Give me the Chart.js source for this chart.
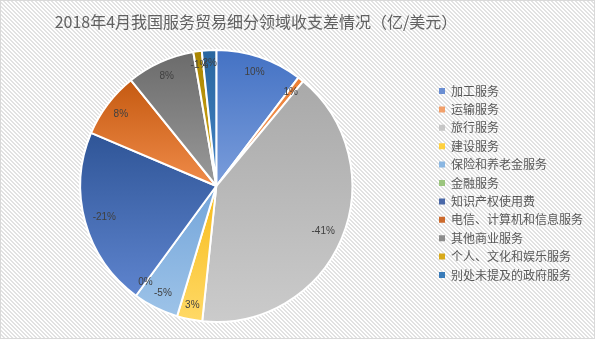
<!DOCTYPE html>
<html lang="zh">
<head>
<meta charset="utf-8">
<title>2018年4月我国服务贸易细分领域收支差情况</title>
<script src="https://cdn.jsdelivr.net/npm/chart.js@4.4.1/dist/chart.umd.min.js"></script>
<style>
  html, body { margin: 0; padding: 0; background: #fff; }
  #wrap {
    position: relative; width: 595px; height: 339px; box-sizing: border-box;
    border: 1px solid #d9d9d9;
    background: repeating-linear-gradient(45deg, #fff 0 1.6px, #e2e2e2 1.6px 2.83px);
  }
  #chart { position: absolute; left: -1px; top: -1px; }
</style>
</head>
<body>
<div id="wrap"><canvas id="chart" width="595" height="339"></canvas></div>
<script>
// data (share of total, sign = surplus / deficit)
const chartTitle = '2018年4月我国服务贸易细分领域收支差情况（亿/美元）';
const categories = ['加工服务', '运输服务', '旅行服务', '建设服务', '保险和养老金服务', '金融服务',
  '知识产权使用费', '电信、计算机和信息服务', '其他商业服务', '个人、文化和娱乐服务', '别处未提及的政府服务'];
const shares = [10.3, 0.7, -40.6, 3.0, -5.4, 0, -21.3, 7.8, 8.1, -1.0, 1.7];

// styles
const sliceTop = ['#4472c4', '#ed7d31', '#a9a9a9', '#f7bb1a', '#74a5da', '#70ad47',
  '#2f5597', '#c55a11', '#6b6b6b', '#a98500', '#2a669f'];
const sliceBottom = ['#7a9ddb', '#f4a46e', '#cbcbcb', '#ffd966', '#9dc3e8', '#a9d18e',
  '#5e84ce', '#f08b49', '#9a9a9a', '#d4a91b', '#4485c6'];
const legendColors = ['#6a8ed2', '#f2a06a', '#c6c6c6', '#ffd13f', '#8bb7e2', '#9bc57e',
  '#4a68a8', '#cc6a2c', '#8c8c8c', '#d8a91a', '#3a7cb9'];
const PIE_RADIUS = 136;
const CJK = '"Noto Sans CJK SC", "Microsoft YaHei", sans-serif';

const totalAbs = shares.reduce((s, v) => s + Math.abs(v), 0);

// vertical gradient over each slice's own height, darker at the top
function sliceFill(c) {
  const i = c.dataIndex;
  const area = c.chart.chartArea;
  if (!area || i === undefined) return sliceTop[i] || '#999';
  let a0 = -Math.PI / 2;
  for (let k = 0; k < i; k++) a0 += Math.abs(shares[k]) / totalAbs * 2 * Math.PI;
  const a1 = a0 + Math.abs(shares[i]) / totalAbs * 2 * Math.PI;
  const cy = (area.top + area.bottom) / 2;
  let yMin = cy, yMax = cy;
  for (let s = 0; s <= 32; s++) {
    const y = cy + PIE_RADIUS * Math.sin(a0 + (a1 - a0) * s / 32);
    yMin = Math.min(yMin, y);
    yMax = Math.max(yMax, y);
  }
  if (yMax - yMin < 1) yMax = yMin + 1;
  const g = c.chart.ctx.createLinearGradient(0, yMin, 0, yMax);
  g.addColorStop(0, sliceTop[i]);
  g.addColorStop(1, sliceBottom[i]);
  return g;
}

// percentage labels just inside the outer edge
const sliceLabels = {
  id: 'sliceLabels',
  afterDatasetsDraw(chart) {
    const ctx = chart.ctx;
    ctx.save();
    ctx.font = '10px "Liberation Sans", Arial, sans-serif';
    ctx.fillStyle = '#404040';
    ctx.textAlign = 'center';
    ctx.textBaseline = 'middle';
    chart.getDatasetMeta(0).data.forEach((arc, i) => {
      const text = Math.round(shares[i] / totalAbs * 100) + '%';
      const mid = (arc.startAngle + arc.endAngle) / 2;
      const hw = ctx.measureText(text).width / 2;
      const r = arc.outerRadius - 7 - Math.abs(Math.cos(mid)) * hw - Math.abs(Math.sin(mid)) * 6;
      ctx.fillText(text, arc.x + r * Math.cos(mid), arc.y + r * Math.sin(mid));
    });
    ctx.restore();
  }
};

// title sits a bit left of the canvas centre, like the original;
// legend block sits a few px above the pie's centre line
const titleAt = {
  id: 'titleAt',
  afterLayout(chart) {
    chart.legend.top -= 3;
    chart.legend.bottom -= 3;
  },
  afterDraw(chart) {
    const ctx = chart.ctx;
    ctx.save();
    ctx.font = '16px ' + CJK;
    ctx.fillStyle = '#616161';
    ctx.textAlign = 'center';
    ctx.textBaseline = 'middle';
    ctx.fillText(chartTitle, 256, 22);
    ctx.restore();
  }
};

new Chart(document.getElementById('chart'), {
  type: 'pie',
  data: {
    labels: categories,
    datasets: [{
      data: shares.map(v => Math.abs(v)),
      backgroundColor: sliceFill,
      borderColor: '#ffffff',
      borderWidth: 2
    }]
  },
  options: {
    responsive: false,
    animation: false,
    events: [],
    radius: PIE_RADIUS,
    layout: { padding: { top: 50, bottom: 17, left: 0, right: 2 } },
    plugins: {
      tooltip: { enabled: false },
      legend: {
        position: 'right',
        labels: {
          boxWidth: 6,
          boxHeight: 6,
          padding: 6.4,
          color: '#595959',
          font: { family: CJK, size: 12 },
          generateLabels: () => categories.map((text, i) => ({
            text, index: i, hidden: false,
            fillStyle: legendColors[i], strokeStyle: legendColors[i], lineWidth: 0,
            fontColor: '#595959'
          }))
        }
      }
    }
  },
  plugins: [sliceLabels, titleAt]
});
</script>
</body>
</html>
